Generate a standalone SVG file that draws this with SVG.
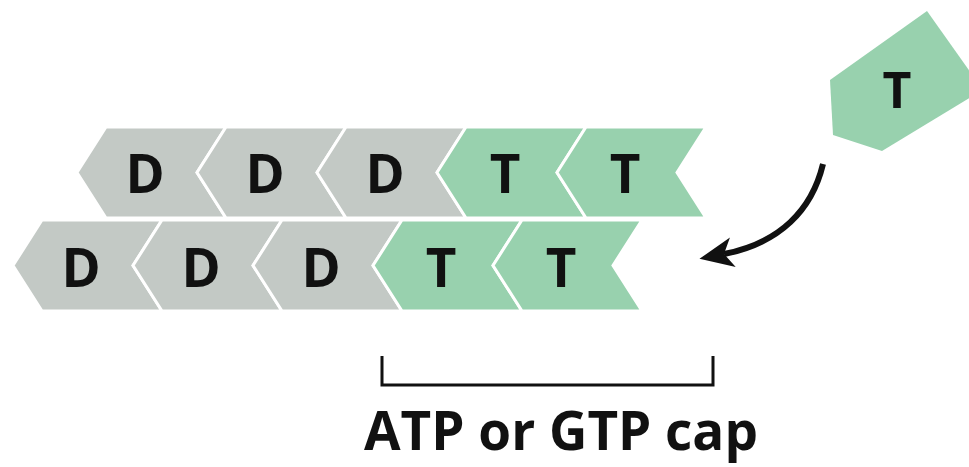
<svg xmlns="http://www.w3.org/2000/svg" xmlns:xlink="http://www.w3.org/1999/xlink" width="969" height="467" viewBox="0 0 969 467">
<style>
.gray{fill:#c3c9c5;stroke:#ffffff;stroke-width:3;stroke-linejoin:miter}
.green{fill:#98d1ae;stroke:#ffffff;stroke-width:3;stroke-linejoin:miter}
.lbl{font-family:"Open Sans","Liberation Sans",sans-serif;font-weight:700;font-size:53px;fill:#111111;text-anchor:middle}
.cap{font-family:"Open Sans","Liberation Sans",sans-serif;font-weight:700;font-size:53px;fill:#111111;text-anchor:middle}
.line{fill:none;stroke:#111111}
</style>
<defs>
<polygon id="chev" points="0,45.5 29,0 149,0 120,45.5 149,91 29,91"/>
<marker id="ah" markerUnits="userSpaceOnUse" markerWidth="40" markerHeight="34" refX="9" refY="15" orient="auto">
<path d="M0,0 L34,15 L0,30 L9,15 Z" fill="#111111"/>
</marker>
</defs>
<rect width="969" height="467" fill="#ffffff"/>
<g id="top-row">
<g id="t1" transform="translate(77,127)"><use xlink:href="#chev" class="gray"/><text class="lbl" x="68" y="66">D</text></g>
<g id="t2" transform="translate(197,127)"><use xlink:href="#chev" class="gray"/><text class="lbl" x="68" y="66">D</text></g>
<g id="t3" transform="translate(317,127)"><use xlink:href="#chev" class="gray"/><text class="lbl" x="68" y="66">D</text></g>
<g id="t4" transform="translate(437,127)"><use xlink:href="#chev" class="green"/><text class="lbl" x="68" y="66">T</text></g>
<g id="t5" transform="translate(557,127)"><use xlink:href="#chev" class="green"/><text class="lbl" x="68" y="66">T</text></g>
</g>
<g id="bottom-row">
<g id="b1" transform="translate(13,220)"><use xlink:href="#chev" class="gray"/><text class="lbl" x="68" y="67">D</text></g>
<g id="b2" transform="translate(133,220)"><use xlink:href="#chev" class="gray"/><text class="lbl" x="68" y="67">D</text></g>
<g id="b3" transform="translate(253,220)"><use xlink:href="#chev" class="gray"/><text class="lbl" x="68" y="67">D</text></g>
<g id="b4" transform="translate(373,220)"><use xlink:href="#chev" class="green"/><text class="lbl" x="68" y="67">T</text></g>
<g id="b5" transform="translate(493,220)"><use xlink:href="#chev" class="green"/><text class="lbl" x="68" y="67">T</text></g>
</g>
<g id="free-T">
<polygon points="830,80 927,11 976,80 976,94 882,151 833,135" fill="#98d1ae"/>
<text class="lbl" x="897" y="108" style="font-size:50px">T</text>
</g>
<g id="connectors">
<path class="line" d="M823,164 C812,210 780,243 724,254" stroke-width="6" marker-end="url(#ah)"/>
</g>
<g id="cap-bracket">
<path class="line" d="M382,356 V385 H713 V356" stroke-width="3"/>
<text class="cap" x="561" y="450">ATP or GTP cap</text>
</g>
</svg>
